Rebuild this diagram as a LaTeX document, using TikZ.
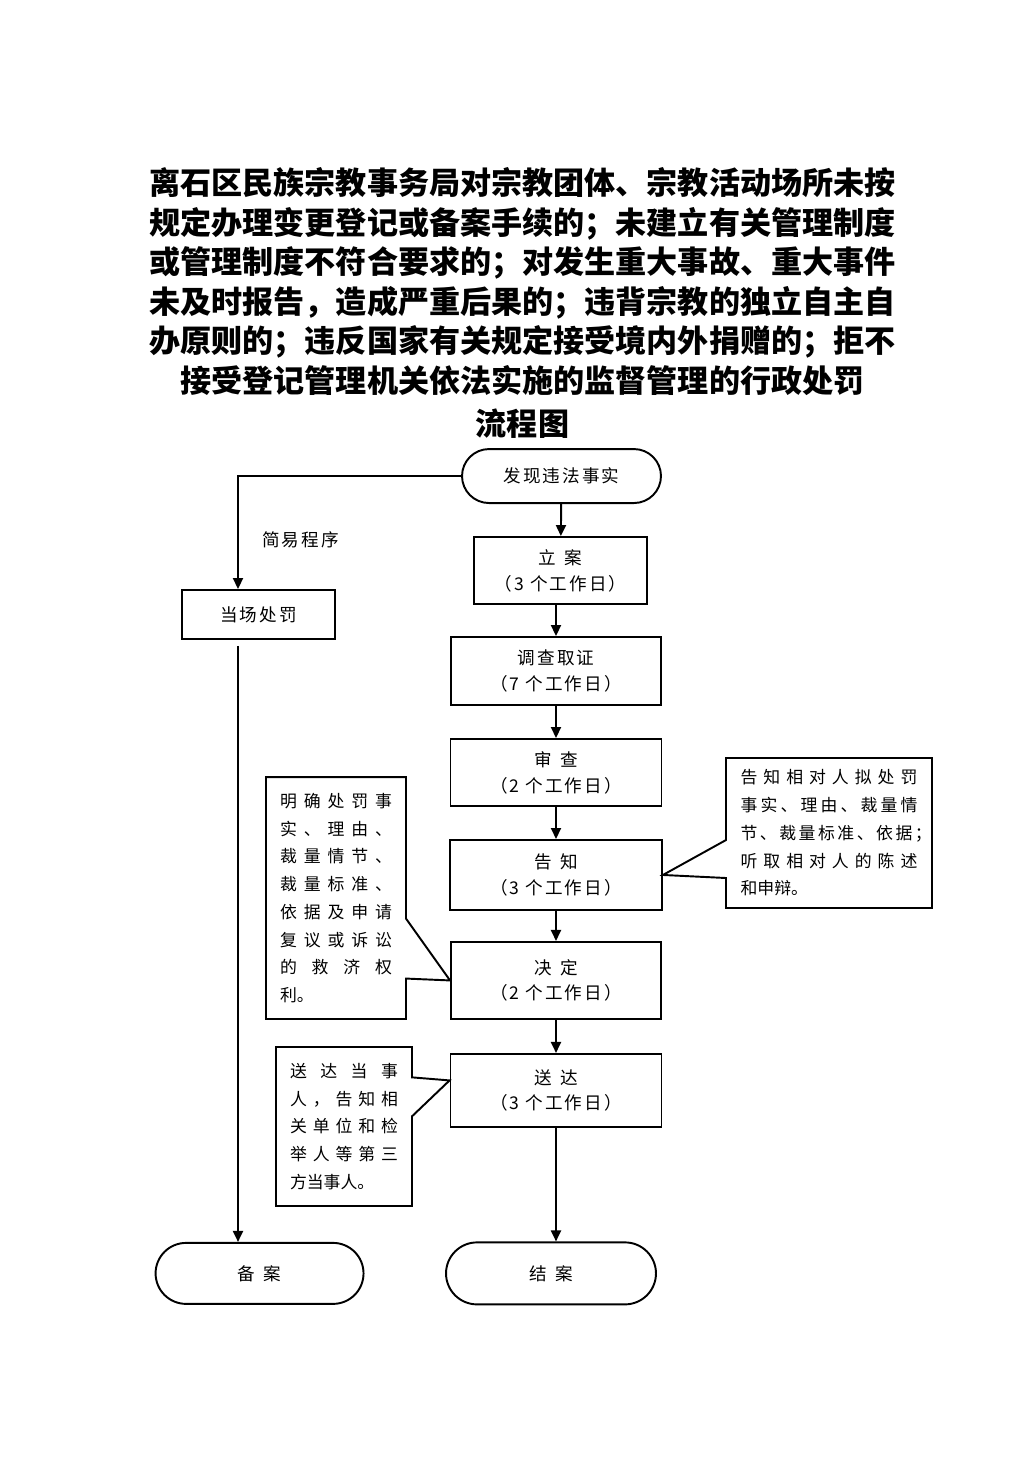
\documentclass[tikz,border=0pt]{standalone}
\usepackage{fontspec}
\setmainfont{Noto Sans CJK SC}
\newfontfamily\boxfont[LetterSpace=12]{Noto Sans CJK SC}
\newfontfamily\notefont{Noto Sans CJK SC}
\usepackage{tikz}
\usetikzlibrary{arrows.meta, shapes.misc, shapes.callouts, positioning}

\newcommand{\fillrow}[2]{\makebox[#1][s]{#2}}

\begin{document}
\begin{tikzpicture}[x=0.02cm, y=-0.02cm, on grid, line width=1.1pt,
	>={Triangle[length=0.22cm, width=0.2cm]},
	stepbox/.style={draw, rectangle, align=center, inner sep=0pt,
		font=\boxfont\fontsize{10pt}{14.7pt}\selectfont},
	terminal/.style={draw, rounded rectangle, inner sep=0pt,
		font=\boxfont\fontsize{10pt}{14.7pt}\selectfont},
	note/.style={draw, rectangle callout, align=left, inner sep=0pt,
		font=\notefont\fontsize{9.6pt}{15.8pt}\selectfont}]
	\useasboundingbox (0,0) rectangle (1033,1461);
	
	% title
	\node[align=center, inner sep=0pt, font=\bfseries\fontsize{17.7pt}{22.5pt}\selectfont] (title) at (522.5,303)
	{离石区民族宗教事务局对宗教团体、宗教活动场所未按\\
	 规定办理变更登记或备案手续的；未建立有关管理制度\\
	 或管理制度不符合要求的；对发生重大事故、重大事件\\
	 未及时报告，造成严重后果的；违背宗教的独立自主自\\
	 办原则的；违反国家有关规定接受境内外捐赠的；拒不\\
	 接受登记管理机关依法实施的监督管理的行政处罚\\[2pt]
	 流程图};
	
	% main column
	\node[stepbox, minimum width=4.2cm, minimum height=1.36cm] (diaocha) at (556,671) {调查取证\\（7 个工作日）};
	\node[stepbox, minimum width=3.46cm, minimum height=1.34cm, above=2.01cm of diaocha, xshift=0.09cm] (lian) {立\enspace 案\\（3 个工作日）};
	\node[terminal, minimum width=3.98cm, minimum height=1.08cm, above=1.89cm of lian, xshift=0.02cm] (find) {发现违法事实};
	\node[stepbox, minimum width=4.22cm, minimum height=1.34cm, below=2.03cm of diaocha] (shencha) {审\enspace 查\\（2 个工作日）};
	\node[stepbox, minimum width=4.24cm, minimum height=1.4cm, below=2.05cm of shencha] (gaozhi) {告\enspace 知\\（3 个工作日）};
	\node[stepbox, minimum width=4.2cm, minimum height=1.54cm, below=2.11cm of gaozhi] (jueding) {决\enspace 定\\（2 个工作日）};
	\node[stepbox, minimum width=4.22cm, minimum height=1.46cm, below=2.2cm of jueding] (songda) {送\enspace 达\\（3 个工作日）};
	\node[terminal, minimum width=4.2cm, minimum height=1.24cm, below=3.66cm of songda, xshift=-0.1cm] (jiean) {结\enspace 案};
	
	% simple procedure
	\node[stepbox, minimum width=3.06cm, minimum height=0.98cm] (dangchang) at (258.5,614.5) {当场处罚};
	\node[terminal, minimum width=4.16cm, minimum height=1.22cm, left=5.83cm of jiean] (beian) {备\enspace 案};
	\coordinate (lane) at ([xshift=-0.41cm]dangchang.north);
	
	% notes
	\node[note, minimum width=2.8cm, minimum height=4.84cm, callout absolute pointer={(jueding.west)}, callout pointer width=1.2cm] (noteL) at (336,898)
	{\fillrow{2.24cm}{明 确 处 罚 事}\\
	 \fillrow{2.24cm}{实 、 理 由 、}\\
	 \fillrow{2.24cm}{裁 量 情 节 、}\\
	 \fillrow{2.24cm}{裁 量 标 准 、}\\
	 \fillrow{2.24cm}{依 据 及 申 请}\\
	 \fillrow{2.24cm}{复 议 或 诉 讼}\\
	 \fillrow{2.24cm}{的 救 济 权}\\
	 利。};
	\node[note, minimum width=4.12cm, minimum height=3.0cm, callout absolute pointer={(gaozhi.east)}, callout pointer width=0.76cm] (noteR) at (829,833)
	{\fillrow{3.54cm}{告 知 相 对 人 拟 处 罚}\\
	 \fillrow{3.54cm}{事 实 、 理 由 、 裁 量 情}\\
	 \fillrow{3.54cm}{节 、 裁 量 标 准 、 依 据 ；}\\
	 \fillrow{3.54cm}{听 取 相 对 人 的 陈 述}\\
	 和申辩。};
	\node[note, minimum width=2.72cm, minimum height=3.18cm, callout absolute pointer={([yshift=0.2cm]songda.west)}, callout pointer width=0.78cm] (noteB) at (344,1126.5)
	{\fillrow{2.16cm}{送 达 当 事}\\
	 \fillrow{2.16cm}{人 ， 告 知 相}\\
	 \fillrow{2.16cm}{关 单 位 和 检}\\
	 \fillrow{2.16cm}{举 人 等 第 三}\\
	 方当事人。};
	
	% connectors
	\draw[->] (find) -- (lian);
	\draw[->] (lian.south -| diaocha) -- (diaocha);
	\draw[->] (diaocha) -- (shencha);
	\draw[->] (shencha) -- (gaozhi);
	\draw[->] (gaozhi) -- (jueding);
	\draw[->] (jueding) -- (songda);
	\draw[->] (songda) -- (songda |- jiean.north);
	\draw[->] (find.west) -| (lane) node[pos=0.78, right=0.35cm, font=\boxfont\fontsize{10pt}{14.7pt}\selectfont] {简易程序};
	\draw[->, shorten <=0.12cm] (dangchang.south -| lane) -- (beian.north -| lane);
\end{tikzpicture}
\end{document}
